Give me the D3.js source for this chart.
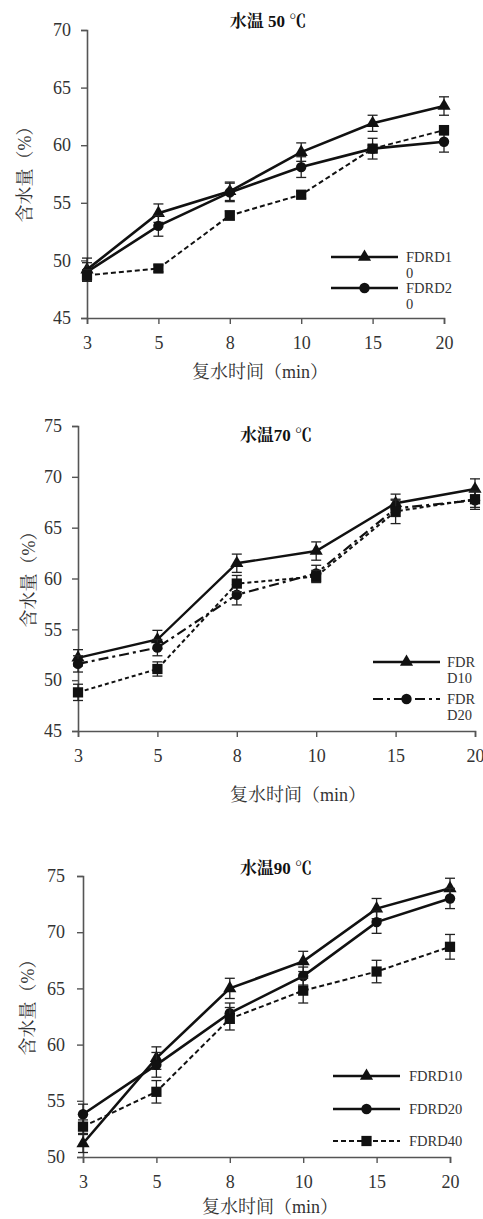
<!DOCTYPE html>
<html>
<head>
<meta charset="utf-8">
<script src="https://cdn.jsdelivr.net/npm/d3@7"></script>
<style>
  html, body { margin: 0; padding: 0; background: #fff; }
  svg { display: block; }
  text { font-family: "Liberation Serif", "Noto Serif CJK SC", "Noto Sans CJK SC", serif; }
</style>
</head>
<body>
<svg id="chart" width="483" height="1219"></svg>
<script>
// ---- data ----
const categories = ["3", "5", "8", "10", "15", "20"];

const titles = ["水温 50 ℃", "水温70 ℃", "水温90 ℃"];
const yTicks50 = [45, 50, 55, 60, 65, 70];
const yTicks70 = [45, 50, 55, 60, 65, 70, 75];
const yTicks90 = [50, 55, 60, 65, 70, 75];

// 50 °C
const t50_FDRD10 = [49.2, 54.1, 56.0, 59.4, 61.9, 63.4];
const t50_FDRD10_err = [1.0, 0.8, 0.8, 0.8, 0.7, 0.8];
const t50_FDRD20 = [49.0, 53.0, 55.9, 58.1, 59.7, 60.3];
const t50_FDRD20_err = [0.8, 0.9, 0.8, 0.9, 0.9, 0.9];
const t50_FDRD40 = [48.7, 49.3, 53.9, 55.7, 59.7, 61.3];
const t50_FDRD40_err = [0.5, 0.3, 0.4, 0.3, 0.3, 0.4];

// 70 °C
const t70_FDRD10 = [52.2, 54.0, 61.5, 62.7, 67.4, 68.8];
const t70_FDRD10_err = [0.8, 0.9, 0.9, 0.9, 0.9, 1.0];
const t70_FDRD20 = [51.6, 53.2, 58.4, 60.5, 66.9, 67.7];
const t70_FDRD20_err = [0.8, 0.8, 1.0, 0.8, 0.8, 0.9];
const t70_FDRD40 = [48.8, 51.1, 59.5, 60.2, 66.6, 67.8];
const t70_FDRD40_err = [0.8, 0.7, 0.8, 0.6, 1.2, 0.8];

// 90 °C
const t90_FDRD10 = [51.2, 58.8, 65.0, 67.4, 72.1, 73.9];
const t90_FDRD10_err = [0.8, 1.0, 0.9, 0.9, 0.9, 0.9];
const t90_FDRD20 = [53.8, 58.2, 62.8, 66.1, 70.9, 73.0];
const t90_FDRD20_err = [0.9, 1.1, 0.9, 0.8, 1.0, 0.9];
const t90_FDRD40 = [52.7, 55.8, 62.3, 64.8, 66.5, 68.7];
const t90_FDRD40_err = [0.6, 1.0, 1.0, 1.1, 1.0, 1.1];

const xTitle = "复水时间（min）";
const yTitle = "含水量（%）";

// ---- drawing ----
const svg = d3.select("#chart");

function drawPanel(cfg) {
  const g = svg.append("g");
  const x = d3.scalePoint().domain(categories).range(cfg.xr).padding(0);
  const y = d3.scaleLinear().domain(cfg.yd).range(cfg.yr);

  const axisColor = "#555";
  const ya = g.append("g").attr("transform", `translate(${cfg.xr[0]},0)`)
    .call(d3.axisLeft(y).tickValues(cfg.yTicks).tickSize(6).tickPadding(cfg.yPad).tickFormat(d3.format("d")));
  const xa = g.append("g").attr("transform", `translate(0,${cfg.yr[0]})`)
    .call(d3.axisBottom(x).tickSize(6).tickPadding(12));
  [ya, xa].forEach(a => {
    a.select(".domain").attr("stroke", axisColor).attr("stroke-width", 1.6);
    a.selectAll(".tick line").attr("stroke", axisColor).attr("stroke-width", 1.4);
    a.selectAll(".tick text").attr("fill", "#333").style("font-size", "18px")
      .style("font-family", '"Liberation Serif", serif');
  });

  // title
  g.append("text").attr("x", cfg.title[0]).attr("y", cfg.title[1])
    .attr("text-anchor", "middle").style("font-size", "17px").style("font-weight", "bold")
    .attr("fill", "#111").text(cfg.titleText);

  // axis titles
  g.append("text").attr("x", cfg.xTitle[0]).attr("y", cfg.xTitle[1])
    .attr("text-anchor", "middle").style("font-size", "18px").attr("fill", "#333").text(xTitle);
  g.append("text").attr("transform", `translate(${cfg.yTitle[0]},${cfg.yTitle[1]}) rotate(-90)`)
    .attr("text-anchor", "middle").style("font-size", "18px").attr("fill", "#333").text(yTitle);

  const symbolFor = {
    tri: d3.symbol(d3.symbolTriangle, 75),
    circ: d3.symbol(d3.symbolCircle, 85),
    sq: d3.symbol(d3.symbolSquare, 105)
  };

  cfg.series.forEach(s => {
    const pts = s.values.map((v, i) => ({ c: categories[i], v, e: s.err[i] }));
    // error bars
    const eb = g.append("g").attr("stroke", "#222").attr("stroke-width", 1.3);
    pts.forEach(p => {
      const cx = x(p.c);
      eb.append("line").attr("x1", cx).attr("x2", cx).attr("y1", y(p.v - p.e)).attr("y2", y(p.v + p.e));
      eb.append("line").attr("x1", cx - 5).attr("x2", cx + 5).attr("y1", y(p.v - p.e)).attr("y2", y(p.v - p.e));
      eb.append("line").attr("x1", cx - 5).attr("x2", cx + 5).attr("y1", y(p.v + p.e)).attr("y2", y(p.v + p.e));
    });
    g.append("path").datum(pts)
      .attr("d", d3.line().x(p => x(p.c)).y(p => y(p.v)))
      .attr("fill", "none").attr("stroke", "#111").attr("stroke-width", s.width)
      .attr("stroke-dasharray", s.dash || null);
    g.selectAll(null).data(pts).enter().append("path")
      .attr("transform", p => `translate(${x(p.c)},${y(p.v)})`)
      .attr("d", symbolFor[s.sym]()).attr("fill", "#111");
  });

  // legend
  cfg.legend.forEach((L) => {
    const s = cfg.series[L.idx];
    const ly = L.y;
    g.append("line").attr("x1", cfg.legX[0]).attr("x2", cfg.legX[1]).attr("y1", ly).attr("y2", ly)
      .attr("stroke", "#111").attr("stroke-width", s.width).attr("stroke-dasharray", s.dash || null);
    g.append("path").attr("transform", `translate(${(cfg.legX[0] + cfg.legX[1]) / 2},${ly})`)
      .attr("d", symbolFor[s.sym]()).attr("fill", "#111");
    const t = g.append("text").attr("x", cfg.legX[2]).attr("y", ly + 5)
      .style("font-size", "14.5px").attr("fill", "#333");
    L.lines.forEach((ln, j) => {
      t.append("tspan").attr("x", cfg.legX[2]).attr("dy", j === 0 ? 0 : 16).text(ln);
    });
  });
}

drawPanel({
  titleText: titles[0], title: [268, 27],
  xr: [87, 444], yd: [45, 70], yr: [318, 30], yTicks: yTicks50, yPad: 10,
  xTitle: [260, 378], yTitle: [31, 170],
  series: [
    { values: t50_FDRD10, err: t50_FDRD10_err, sym: "tri", width: 2.6 },
    { values: t50_FDRD20, err: t50_FDRD20_err, sym: "circ", width: 2.6 },
    { values: t50_FDRD40, err: t50_FDRD40_err, sym: "sq", width: 2, dash: "5,3" }
  ],
  legX: [331, 398, 406],
  legend: [
    { idx: 0, y: 257, lines: ["FDRD1", "0"] },
    { idx: 1, y: 288, lines: ["FDRD2", "0"] }
  ]
});

drawPanel({
  titleText: titles[1], title: [276, 441],
  xr: [78, 475], yd: [45, 75], yr: [731, 426], yTicks: yTicks70, yPad: 10,
  xTitle: [298, 801], yTitle: [35, 575],
  series: [
    { values: t70_FDRD10, err: t70_FDRD10_err, sym: "tri", width: 2.4 },
    { values: t70_FDRD20, err: t70_FDRD20_err, sym: "circ", width: 2.2, dash: "10,4,3,4" },
    { values: t70_FDRD40, err: t70_FDRD40_err, sym: "sq", width: 2, dash: "4,3" }
  ],
  legX: [373, 440, 447],
  legend: [
    { idx: 0, y: 662, lines: ["FDR", "D10"] },
    { idx: 1, y: 699, lines: ["FDR", "D20"] }
  ]
});

drawPanel({
  titleText: titles[2], title: [276, 874],
  xr: [83, 450], yd: [50, 75], yr: [1157, 876], yTicks: yTicks90, yPad: 12,
  xTitle: [270, 1213], yTitle: [34, 1003],
  series: [
    { values: t90_FDRD10, err: t90_FDRD10_err, sym: "tri", width: 2.6 },
    { values: t90_FDRD20, err: t90_FDRD20_err, sym: "circ", width: 2.6 },
    { values: t90_FDRD40, err: t90_FDRD40_err, sym: "sq", width: 2, dash: "5,3" }
  ],
  legX: [333, 400, 409],
  legend: [
    { idx: 0, y: 1076, lines: ["FDRD10"] },
    { idx: 1, y: 1109, lines: ["FDRD20"] },
    { idx: 2, y: 1141, lines: ["FDRD40"] }
  ]
});
</script>
</body>
</html>
